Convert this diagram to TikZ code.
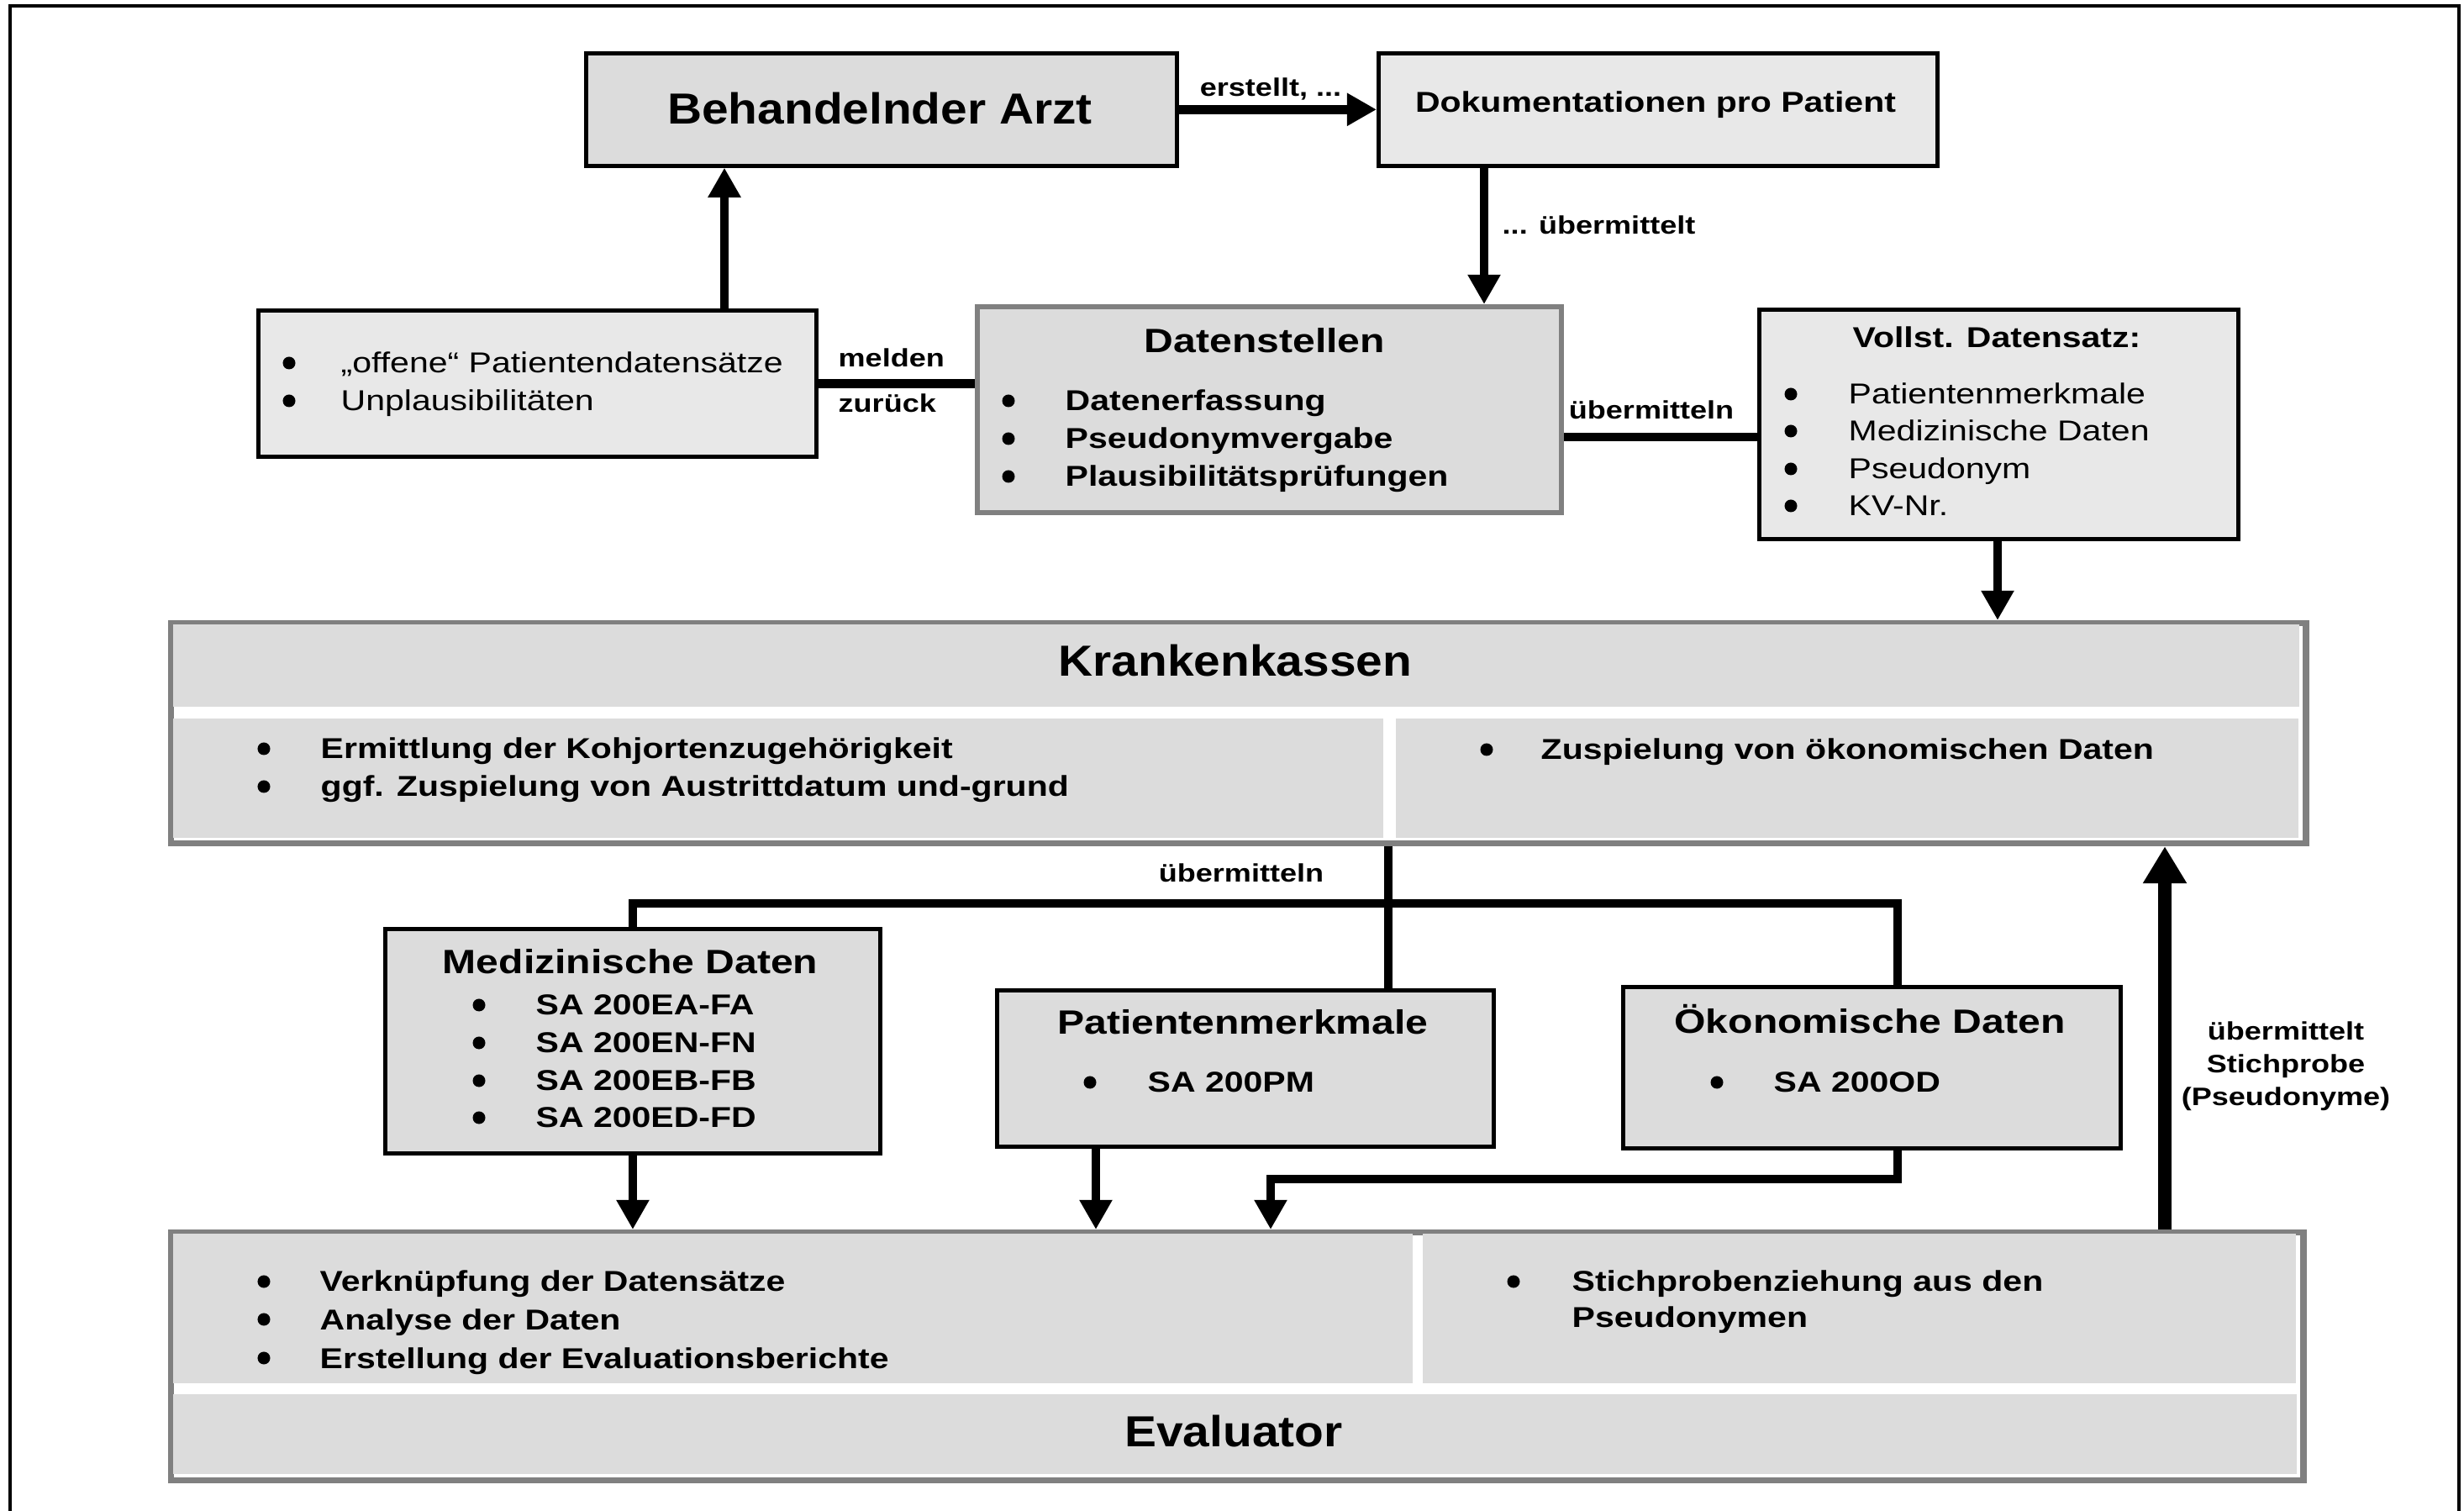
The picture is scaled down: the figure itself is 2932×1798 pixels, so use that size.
\documentclass[tikz,border=0pt]{standalone}
\usepackage{fontspec}
\setmainfont{Liberation Sans}[FakeStretch=1.2]
\newfontfamily\bigfam{Liberation Sans}[FakeStretch=1.1]
\usetikzlibrary{arrows.meta}
\definecolor{boxgray}{RGB}{220,220,220}
\definecolor{lightbox}{RGB}{232,232,232}
\definecolor{edgegray}{RGB}{128,128,128}
\newcommand\fBig{\bigfam\fontsize{14.7}{17}\selectfont\bfseries}
\newcommand\fTitle{\fontsize{11.4}{13}\selectfont\bfseries}
\newcommand\fBody{\fontsize{9.72}{12}\selectfont\bfseries}
\newcommand\fReg{\fontsize{9.72}{12}\selectfont}
\newcommand\fLab{\fontsize{8.54}{10}\selectfont\bfseries}
\begin{document}
\begin{tikzpicture}[x=0.01cm,y=-0.01cm,
  box/.style={draw=black,line width=1.3pt,inner sep=0pt,anchor=north west,fill=boxgray},
  lbox/.style={box,fill=lightbox},
  gbox/.style={draw=edgegray,line width=1.7pt,inner sep=0pt,anchor=north west,fill=boxgray},
  bigbox/.style={draw=edgegray,line width=2pt,inner sep=0pt,anchor=north west,fill=white},
  cell/.style={draw=none,inner sep=0pt,anchor=north west,fill=boxgray},
  txt/.style={inner sep=0pt,anchor=base},
  item/.style={inner sep=0pt,anchor=base west,font=\fBody},
  ritem/.style={inner sep=0pt,anchor=base west,font=\fReg},
  lab/.style={inner sep=0pt,font=\fLab},
  ln/.style={draw=black,line width=3.1pt},
  arr/.style={ln,-{Triangle[width=10.5pt,length=10pt]}},
  bigarr/.style={draw=black,line width=4.3pt,-{Triangle[width=14pt,length=12.5pt]}}
]
\useasboundingbox (0,0) rectangle (2932,1798);
% outer frame (open at the bottom)
\draw[line width=1.2pt] (12,1815) -- (12,7) -- (2926,7) -- (2926,1815);

% ---------- boxes ----------
\node[box,minimum width=7.03cm,minimum height=1.34cm] (arzt) at (695,61) {};
\node[lbox,minimum width=6.65cm,minimum height=1.34cm] (doku) at (1638,61) {};
\node[lbox,minimum width=6.64cm,minimum height=1.74cm] (open) at (305,367) {};
\node[gbox,minimum width=6.95cm,minimum height=2.45cm] (ds) at (1160,362) {};
\node[lbox,minimum width=5.70cm,minimum height=2.73cm] (vs) at (2091,366) {};

\node[bigbox,minimum width=25.39cm,minimum height=2.62cm] (kk) at (200,738) {};
\node[cell,minimum width=25.29cm,minimum height=0.98cm] (kktop) at (205,742) {};
\node[cell,minimum width=14.39cm,minimum height=1.42cm] (kkl) at (205,854) {};
\node[cell,minimum width=10.74cm,minimum height=1.42cm] (kkr) at (1660,854) {};

\node[box,minimum width=5.89cm,minimum height=2.67cm] (med) at (456,1103) {};
\node[box,minimum width=5.91cm,minimum height=1.86cm] (pm) at (1184,1176) {};
\node[box,minimum width=5.92cm,minimum height=1.92cm] (oek) at (1929,1172) {};

\node[bigbox,minimum width=25.36cm,minimum height=2.95cm] (ev) at (200,1463) {};
\node[cell,minimum width=14.74cm,minimum height=1.78cm] (evl) at (205,1467) {};
\node[cell,minimum width=10.39cm,minimum height=1.78cm] (evr) at (1692,1467) {};
\node[cell,minimum width=25.26cm,minimum height=0.95cm] (evb) at (205,1658) {};

% ---------- bullets ----------
\foreach \p in {(344,432),(344,477),
  (1200,477),(1200,522),(1200,567),
  (2131,469),(2131,513),(2131,558),(2131,602),
  (314,891),(314,936),(1769,892),
  (570,1196),(570,1241),(570,1286),(570,1330),
  (1297,1288),(2043,1288),
  (314,1525),(314,1570),(314,1616),(1801,1525)}
  \fill \p circle[radius=0.075cm];

% ---------- texts ----------
\node[txt,font=\fBig] (tarzt) at (1047,148) {Behandelnder Arzt};
\node[txt,font=\fBody] (tdoku) at (1970,134) {Dokumentationen pro Patient};
\node[ritem] (o1) at (405,444) {„offene“ Patientendatensätze};
\node[ritem] (o2) at (405,489) {Unplausibilitäten};
\node[txt,font=\fTitle] (tds) at (1505,420) {Datenstellen};
\node[item] (d1) at (1267,489) {Datenerfassung};
\node[item] (d2) at (1267,534) {Pseudonymvergabe};
\node[item] (d3) at (1267,579) {Plausibilitätsprüfungen};
\node[txt,font=\fBody] (tvs) at (2376,414) {Vollst. Datensatz:};
\node[ritem] (v1) at (2199,481) {Patientenmerkmale};
\node[ritem] (v2) at (2199,525) {Medizinische Daten};
\node[ritem] (v3) at (2199,570) {Pseudonym};
\node[ritem] (v4) at (2199,614) {KV-Nr.};

\node[txt,font=\fBig] (tkk) at (1470,805) {Krankenkassen};
\node[item] (k1) at (381,903) {Ermittlung der Kohjortenzugehörigkeit};
\node[item] (k2) at (381,948) {ggf. Zuspielung von Austrittdatum und-grund};
\node[item] (k3) at (1833,904) {Zuspielung von ökonomischen Daten};

\node[txt,font=\fTitle] (tmed) at (750,1159) {Medizinische Daten};
\node[item] (m1) at (637,1208) {SA 200EA-FA};
\node[item] (m2) at (637,1253) {SA 200EN-FN};
\node[item] (m3) at (637,1298) {SA 200EB-FB};
\node[item] (m4) at (637,1342) {SA 200ED-FD};
\node[txt,font=\fTitle] (tpm) at (1479,1231) {Patientenmerkmale};
\node[item] (p1) at (1365,1300) {SA 200PM};
\node[txt,font=\fTitle] (toek) at (2225,1230) {Ökonomische Daten};
\node[item] (e1) at (2110,1300) {SA 200OD};

\node[item] (ev1) at (380,1537) {Verknüpfung der Datensätze};
\node[item] (ev2) at (380,1582) {Analyse der Daten};
\node[item] (ev3) at (380,1628) {Erstellung der Evaluationsberichte};
\node[item] (ev4) at (1870,1537) {Stichprobenziehung aus den};
\node[item] (ev5) at (1870,1580) {Pseudonymen};
\node[txt,font=\fBig] (tev) at (1468,1721) {Evaluator};

% ---------- connector helper coordinates ----------
\coordinate (upx) at (862,0);
\coordinate (dx) at (1766,0);
\coordinate (uy) at (0,520);
\coordinate (vx) at (2377,0);
\coordinate (bx) at (1652,0);
\coordinate (by) at (0,1075);
\coordinate (ox) at (2258,0);
\coordinate (px) at (1304,0);
\coordinate (ry) at (0,1403);
\coordinate (rx) at (1512,0);
\coordinate (sx) at (2576,0);

% ---------- connectors ----------
\draw[arr] (arzt.east) -- (doku.west);
\draw[arr] (open.north -| upx) -- (arzt.south -| upx);
\draw[arr] (doku.south -| dx) -- (ds.north -| dx);
\draw[ln] (open.east) -- (open.east -| ds.west);
\draw[ln] (ds.east |- uy) -- (vs.west |- uy);
\draw[arr] (vs.south -| vx) -- (kk.north -| vx);
\draw[ln] (kk.south -| bx) -- (pm.north -| bx);
\draw[ln] (med.north) |- (by -| ox) -- (oek.north -| ox);
\draw[arr] (med.south) -- (med.south |- ev.north);
\draw[arr] (pm.south -| px) -- (ev.north -| px);
\draw[arr] (oek.south -| ox) |- (ry -| rx) -- (ev.north -| rx);
\draw[bigarr] (ev.north -| sx) -- (kk.south -| sx);

% ---------- connector labels ----------
\node[lab,anchor=base] (l1) at (1512,115) {erstellt, ...};
\node[lab,anchor=base west] (l2) at (1787,279) {... übermittelt};
\node[lab,anchor=base west] (l3) at (997,437) {melden};
\node[lab,anchor=base west] (l4) at (997,491) {zurück};
\node[lab,anchor=base] (l5) at (1965,499) {übermitteln};
\node[lab,anchor=base] (l6) at (1477,1050) {übermitteln};
\node[lab,anchor=base] (l7) at (2720,1238) {übermittelt};
\node[lab,anchor=base] (l8) at (2720,1277) {Stichprobe};
\node[lab,anchor=base] (l9) at (2720,1316) {(Pseudonyme)};
\end{tikzpicture}
\end{document}
